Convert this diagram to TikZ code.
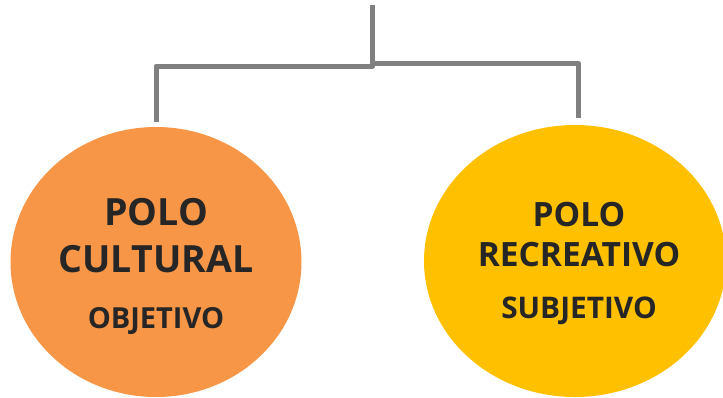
\documentclass[tikz,border=0pt]{standalone}
\usepackage{fontspec}
\setmainfont{Open Sans}
\usetikzlibrary{shapes.geometric}
\definecolor{polorange}{HTML}{F79646}
\definecolor{polyellow}{HTML}{FFC000}
\definecolor{linegray}{HTML}{808080}
\definecolor{txtdark}{HTML}{262626}
\begin{document}
\begin{tikzpicture}[x=1pt,y=-1pt,
  pole/.style={ellipse, draw=none, inner sep=0pt},
  conn/.style={draw=linegray, line width=5pt, line join=round},
  bigtxt/.style={anchor=base, inner sep=0pt, text=txtdark, font=\bfseries\fontsize{37.5}{37.5}\selectfont},
  midtxt/.style={anchor=base, inner sep=0pt, text=txtdark, font=\bfseries\fontsize{33.5}{33.5}\selectfont},
  smalltxt/.style={anchor=base, inner sep=0pt, text=txtdark, font=\bfseries\fontsize{29}{29}\selectfont},
  smalltxtr/.style={smalltxt, font=\bfseries\fontsize{29.8}{29.8}\selectfont}]
\useasboundingbox (0,0) rectangle (723,397);
\begin{scope}
\clip (0,0) rectangle (723,397);
\node[pole, fill=polorange, minimum width=291pt, minimum height=270pt] (cult) at (156,262) {};
\node[pole, fill=polyellow, minimum width=302pt, minimum height=272pt] (recr) at (575,261) {};
\end{scope}
\coordinate (top) at (372.7,5);
\coordinate (jl) at (372.7,66);
\coordinate (jr) at (372.7,63.5);
\coordinate (rend) at ([xshift=3.5pt,yshift=7pt]recr.north);
\draw[conn] (top) -- (jl) -- (jl -| cult.north) -- ([yshift=5pt]cult.north);
\draw[conn] (jr) -- (jr -| rend) -- (rend);
\node[bigtxt] (c1) at (156,225) {POLO};
\node[bigtxt] (c2) at (156,272) {CULTURAL};
\node[smalltxt] (c3) at (156,328) {OBJETIVO};
\node[midtxt] (r1) at (579,226) {POLO};
\node[midtxt] (r2) at (579,266) {RECREATIVO};
\node[smalltxtr] (r3) at (579,318) {SUBJETIVO};
\end{tikzpicture}
\end{document}
